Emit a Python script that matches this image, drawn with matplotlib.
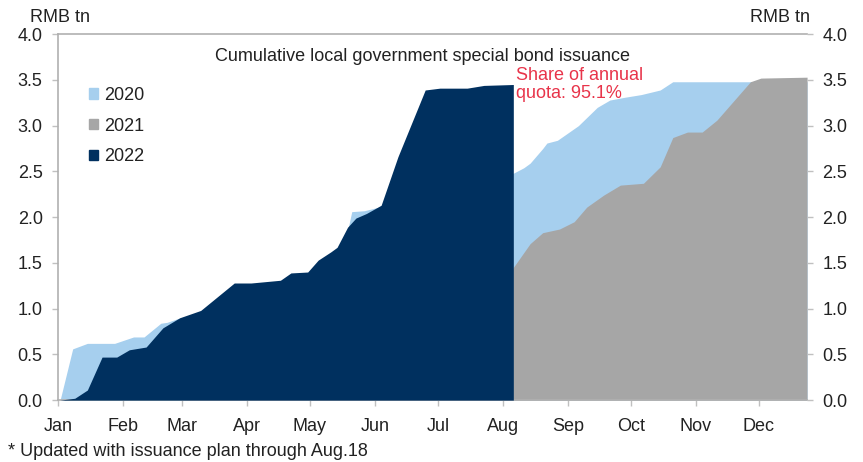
import matplotlib.pyplot as plt
from matplotlib.patches import Patch

plt.rcParams['font.family'] = ['Liberation Sans', 'DejaVu Sans']

# day of year (0 = Jan 1) and cumulative issuance, RMB tn
days_2020 = [1, 7, 14, 27, 36, 41, 49, 52, 57, 68, 84, 100, 120, 133, 138, 140, 146,
             160, 180, 200, 217, 222, 225, 231, 233, 238, 248, 257, 263, 270, 278,
             287, 293, 327, 357]
vals_2020 = [0.0, 0.56, 0.62, 0.62, 0.69, 0.69, 0.84, 0.85, 0.89, 0.95, 1.10, 1.20,
             1.35, 1.60, 1.85, 2.06, 2.07, 2.15, 2.25, 2.35, 2.48, 2.54, 2.59, 2.75,
             2.81, 2.84, 3.00, 3.20, 3.28, 3.31, 3.34, 3.39, 3.48, 3.48, 3.48]

days_2021 = [1, 60, 75, 90, 105, 120, 135, 150, 165, 180, 200, 216, 217, 225, 231,
             239, 246, 252, 260, 268, 279, 287, 293, 300, 307, 314, 330, 335, 357]
vals_2021 = [0.0, 0.0, 0.03, 0.10, 0.20, 0.30, 0.45, 0.65, 0.90, 1.05, 1.20, 1.40,
             1.45, 1.71, 1.83, 1.87, 1.95, 2.11, 2.24, 2.35, 2.37, 2.55, 2.87, 2.93,
             2.93, 3.06, 3.48, 3.52, 3.53]

days_2022 = [1, 8, 14, 21, 28, 34, 42, 50, 58, 68, 76, 84, 92, 106, 111, 119, 124,
             130, 133, 138, 142, 147, 154, 162, 175, 182, 195, 203, 217]
vals_2022 = [0.0, 0.02, 0.11, 0.47, 0.47, 0.55, 0.58, 0.79, 0.90, 0.98, 1.13, 1.28,
             1.28, 1.31, 1.39, 1.40, 1.53, 1.62, 1.67, 1.89, 1.99, 2.04, 2.13, 2.66,
             3.39, 3.41, 3.41, 3.44, 3.45]

months = ["Jan", "Feb", "Mar", "Apr", "May", "Jun", "Jul", "Aug", "Sep", "Oct", "Nov", "Dec"]
month_starts = [0, 31, 59, 90, 120, 151, 181, 212, 243, 273, 304, 334]

c2020 = "#a6cfee"
c2021 = "#a6a6a6"
c2022 = "#00305f"
fs = 13

fig = plt.figure(figsize=(8.63, 4.62), dpi=100)
ax = fig.add_axes([0.0672, 0.134, 0.868, 0.792])

ax.fill_between(days_2020, vals_2020, color=c2020, lw=0, zorder=1)
ax.fill_between(days_2021, vals_2021, color=c2021, lw=0, zorder=2)
ax.fill_between(days_2022, vals_2022, color=c2022, lw=0, zorder=3)

ax.set_xlim(0, 357)
ax.set_ylim(0, 4)
ax.set_xticks(month_starts)
ax.set_xticklabels(months)
ax.set_yticks([i * 0.5 for i in range(9)])
ax.set_yticklabels([f"{i * 0.5:.1f}" for i in range(9)])

ax.spines["right"].set_visible(False)
for s in ["left", "bottom", "top"]:
    ax.spines[s].set_color("#b0b0b0")
    ax.spines[s].set_linewidth(1.2)
ax.tick_params(axis="both", colors="#c0c0c0", labelcolor="#222222", labelsize=fs,
               length=4, width=1)
ax.tick_params(axis="x", pad=9)
ax.tick_params(axis="y", pad=7)

ax2 = ax.twinx()
ax2.set_ylim(0, 4)
ax2.set_yticks([i * 0.5 for i in range(9)])
ax2.set_yticklabels([f"{i * 0.5:.1f}" for i in range(9)])
for s in ["left", "right", "bottom", "top"]:
    ax2.spines[s].set_visible(False)
ax2.tick_params(axis="y", colors="#c0c0c0", labelcolor="#222222", labelsize=fs,
                length=4, width=1, pad=7)

ax.text(0.486, 0.94, "Cumulative local government special bond issuance",
        transform=ax.transAxes, ha="center", va="center", fontsize=fs, color="#222222")
ax.text(0.6115, 0.863, "Share of annual\nquota: 95.1%", transform=ax.transAxes,
        ha="left", va="center", fontsize=fs, color="#e8344a", linespacing=1.1, zorder=5)

handles = [Patch(color=c2020, label="2020"), Patch(color=c2021, label="2021"),
           Patch(color=c2022, label="2022")]
ax.legend(handles=handles, loc="upper left", bbox_to_anchor=(0.02, 0.9), frameon=False,
          fontsize=fs, handlelength=0.5, handleheight=0.5, handletextpad=0.3,
          labelspacing=0.75, labelcolor="#222222")

fig.text(0.035, 0.963, "RMB tn", ha="left", va="center", fontsize=fs, color="#222222")
fig.text(0.939, 0.963, "RMB tn", ha="right", va="center", fontsize=fs, color="#222222")
fig.text(0.009, 0.013, "* Updated with issuance plan through Aug.18", ha="left",
         va="baseline", fontsize=fs, color="#222222")

fig.savefig("out.png", dpi=100)
